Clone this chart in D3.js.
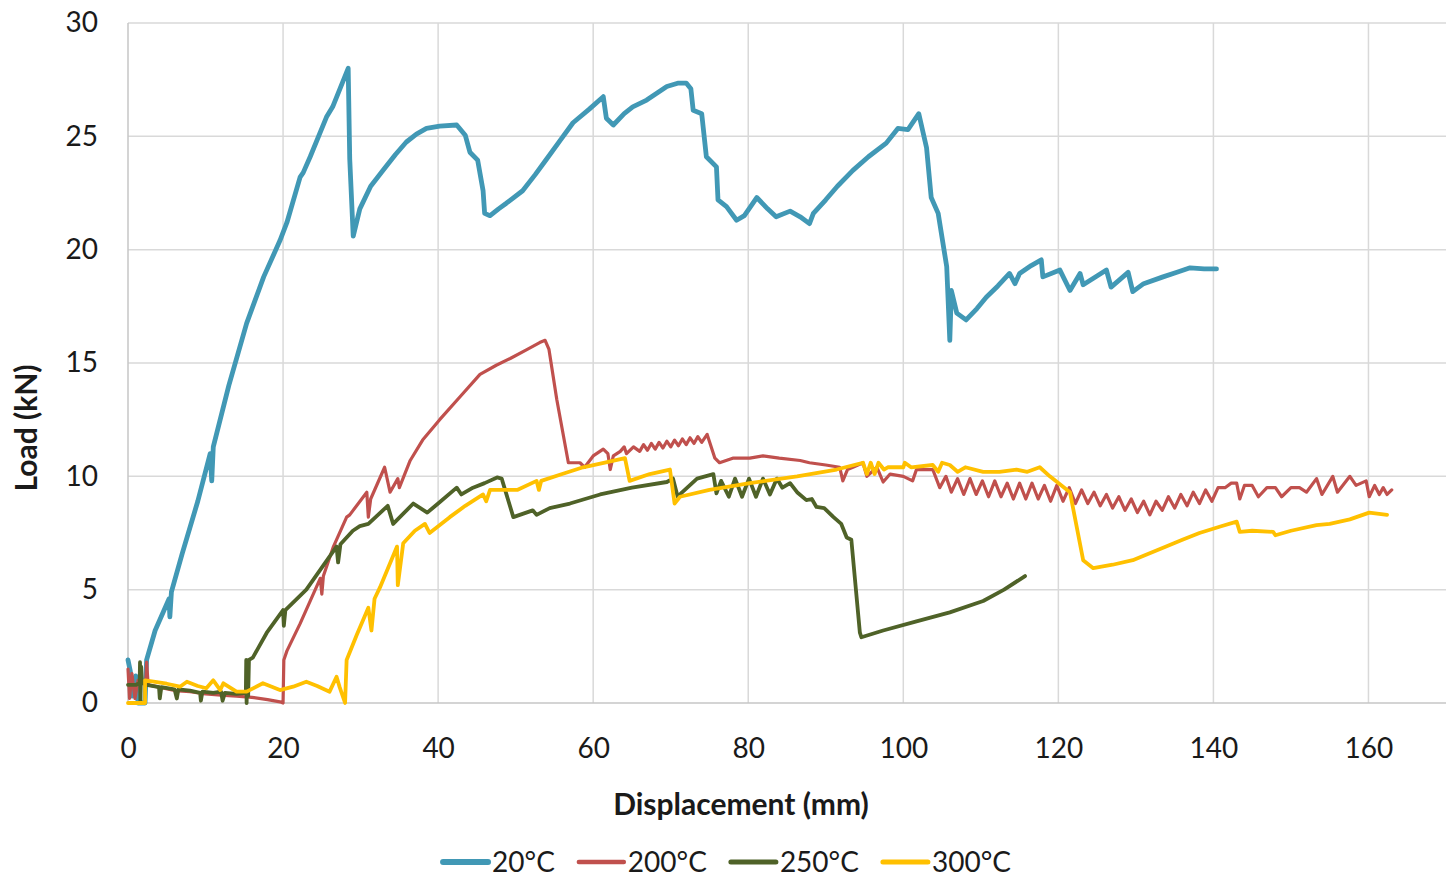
<!DOCTYPE html>
<html>
<head>
<meta charset="utf-8">
<script src="https://cdn.jsdelivr.net/npm/d3@7"></script>
<style>
  body { margin: 0; background: #fff; }
  text { font-family: Lato, "Open Sans", sans-serif; fill: #1a1a1a; }
</style>
</head>
<body>
<div id="chart"></div>
<script>
// ---- data (displacement mm, load kN) ----
const series20 = [[0,1.9],[0.3,1.4],[0.6,0.3],[1,1.2],[1.3,0],[2.2,0],[2.4,1.9],[3.5,3.2],[5.3,4.6],[5.4,3.8],[5.6,4.9],[7,6.6],[9,8.9],[10.6,11],[10.8,9.8],[11,11.3],[13,14],[15.3,16.75],[17.5,18.8],[19.6,20.4],[20.5,21.2],[22.2,23.2],[22.6,23.4],[23.5,24.1],[25.6,25.85],[26.4,26.3],[28.4,28],[28.6,24],[29.05,20.6],[29.9,21.8],[31.3,22.8],[32.9,23.5],[34.5,24.2],[35.9,24.75],[37.2,25.1],[38.5,25.35],[40.2,25.45],[42.4,25.5],[43.5,25.05],[44.1,24.3],[45.1,23.95],[45.8,22.6],[46,21.6],[46.7,21.5],[47.8,21.8],[48.8,22.05],[50.9,22.6],[52.5,23.3],[54,24],[55.7,24.8],[57.4,25.6],[59.5,26.2],[61.3,26.75],[61.7,25.8],[62.6,25.5],[64,26],[65.1,26.3],[66.9,26.6],[68.2,26.9],[69.5,27.2],[71,27.35],[72,27.35],[72.6,27.1],[72.9,26.15],[74,26],[74.6,24.1],[75.9,23.65],[76.1,22.2],[77.2,21.9],[78.5,21.3],[79.5,21.5],[81.1,22.3],[82.5,21.8],[83.6,21.45],[85.4,21.7],[86.7,21.45],[87.9,21.15],[88.4,21.6],[90,22.2],[91.5,22.8],[93.5,23.5],[95.5,24.1],[97.8,24.7],[99.3,25.35],[100.6,25.3],[102,26],[103,24.5],[103.6,22.3],[104.5,21.6],[105.6,19.25],[106,16],[106.2,18.2],[106.9,17.2],[108.1,16.9],[109.5,17.4],[110.7,17.9],[112.2,18.4],[113.7,18.95],[114.4,18.5],[115,18.95],[116.5,19.3],[117.8,19.55],[118,18.8],[120.2,19.1],[121.5,18.2],[122.8,18.95],[123.2,18.45],[126.2,19.1],[126.8,18.35],[129,19],[129.6,18.15],[131,18.5],[133.5,18.8],[135.3,19],[137,19.2],[138.8,19.15],[140.4,19.15]];

const series200 = [[0,1.5],[0.2,0.2],[0.5,1.3],[0.9,0.2],[1.3,1.0],[2.3,0.9],[2.4,1.8],[2.6,0.8],[4,0.7],[6,0.55],[8,0.5],[10,0.4],[12,0.35],[14,0.3],[16,0.25],[18,0.15],[19.6,0.05],[20,0],[20.1,1.9],[20.5,2.3],[22.2,3.5],[24.8,5.5],[25,4.8],[25.2,5.6],[26.5,6.9],[28.2,8.2],[28.6,8.3],[30.8,9.3],[31,8.2],[31.3,9.0],[33.1,10.4],[33.8,9.3],[34.8,9.9],[35,9.5],[36.4,10.7],[38,11.6],[40.2,12.5],[42.8,13.5],[45.4,14.5],[47.5,14.9],[49.3,15.2],[51.5,15.6],[53.1,15.9],[53.8,16],[54.3,15.6],[55.3,13.4],[56.8,10.6],[58.3,10.6],[58.9,10.4],[60,10.9],[61.3,11.2],[61.9,11],[62.2,10.3],[62.6,10.9],[63.5,11.1],[64,11.3],[64.3,11.0],[65.2,11.3],[66,11.1],[66.5,11.4],[67,11.15],[67.5,11.45],[68,11.2],[68.5,11.5],[69,11.25],[69.5,11.55],[70,11.3],[70.5,11.6],[71,11.35],[71.5,11.65],[72,11.4],[72.5,11.7],[73,11.45],[73.5,11.75],[74,11.5],[74.7,11.85],[75.7,10.8],[76.3,10.6],[78,10.8],[80.2,10.8],[81.9,10.9],[84,10.8],[86.7,10.7],[87.9,10.6],[90,10.5],[91.8,10.4],[92.2,9.8],[92.8,10.3],[93.5,10.4],[94.8,10.6],[95.3,10],[96.6,10.4],[97.4,9.75],[98.3,10.1],[100,10.0],[101.2,9.8],[101.7,10.3],[103.8,10.3],[104.7,9.5],[105.5,10.0],[106.2,9.3],[107,9.9],[107.8,9.2],[108.6,9.9],[109.4,9.2],[110.2,9.8],[111,9.1],[111.8,9.8],[112.6,9.1],[113.4,9.7],[114.2,9.0],[115,9.7],[115.8,9.0],[116.6,9.7],[117.4,9.0],[118.2,9.6],[119,8.9],[119.8,9.6],[120.6,8.9],[121.4,9.5],[122.2,8.8],[123,9.4],[123.8,8.8],[124.6,9.3],[125.4,8.7],[126.2,9.2],[127,8.6],[127.8,9.1],[128.6,8.5],[129.4,9.0],[130.2,8.4],[131,8.9],[131.8,8.3],[132.6,8.9],[133.4,8.5],[134.2,9.1],[135,8.6],[135.8,9.2],[136.6,8.7],[137.4,9.3],[138.2,8.8],[139,9.4],[139.8,8.9],[140.6,9.5],[141.5,9.5],[142.3,9.7],[143,9.7],[143.4,9.0],[144,9.6],[145,9.6],[145.8,9.1],[146.9,9.5],[148,9.5],[148.8,9.1],[150,9.5],[151.1,9.5],[152,9.3],[153.3,9.9],[154,9.2],[155.4,10],[156,9.3],[157.6,10],[158.4,9.6],[159.7,9.8],[160.1,9.1],[160.8,9.6],[161.4,9.2],[161.9,9.5],[162.4,9.2],[163,9.4]];

const series250 = [[0,0.8],[1,0.8],[1.5,0.87],[1.55,1.8],[1.6,0],[1.7,1.6],[1.8,0.9],[2.4,0.8],[4,0.7],[4.1,0.2],[4.3,0.7],[6,0.6],[6.3,0.2],[6.5,0.6],[8,0.55],[9.3,0.45],[9.4,0.1],[9.6,0.5],[11,0.45],[12,0.5],[12.2,0.1],[12.5,0.45],[14,0.4],[15.2,0.45],[15.25,1.9],[15.3,0],[15.4,1.7],[15.5,0.3],[15.6,1.9],[16.1,2.0],[17.9,3.1],[20,4.1],[20.1,3.4],[20.3,4.1],[23,5],[26.9,6.9],[27.1,6.2],[27.4,7.0],[29,7.6],[29.9,7.8],[31,7.9],[33.5,8.7],[34.2,7.9],[36.8,8.8],[38.6,8.4],[40,8.8],[42.4,9.5],[43,9.2],[44.5,9.5],[46,9.7],[47.6,9.95],[48.2,9.9],[49.7,8.2],[52.2,8.5],[52.7,8.3],[54.4,8.6],[57,8.8],[60.9,9.2],[65,9.5],[69.5,9.75],[70.3,9.9],[70.9,9.1],[71.5,9.3],[73.4,9.9],[75.5,10.1],[75.9,9.25],[76.5,9.8],[77.5,9.1],[78.3,9.9],[79.2,9.1],[80.1,9.9],[81,9.1],[81.9,9.9],[82.8,9.2],[83.7,9.9],[84.4,9.5],[85.4,9.7],[86.3,9.3],[87.5,8.95],[88.2,9.0],[88.8,8.65],[89.8,8.6],[91,8.2],[92,7.9],[92.7,7.3],[93.3,7.2],[94.4,3.1],[94.6,2.9],[97.4,3.2],[101.7,3.6],[106,4],[110.3,4.5],[113,5],[115.7,5.6]];

const series300 = [[0,0],[1.3,0],[2.2,0],[2.2,1.0],[3.3,0.94],[5,0.85],[6.7,0.72],[7.6,0.94],[9,0.75],[10.1,0.65],[11,1.0],[11.9,0.57],[12.3,0.87],[14,0.5],[15.3,0.5],[17.4,0.87],[19.6,0.57],[21.3,0.72],[23,0.94],[24.4,0.75],[26,0.5],[26.9,1.16],[27.3,0.7],[28,0],[28.2,1.9],[29.5,3],[31,4.2],[31.4,3.2],[31.8,4.6],[32.5,5.1],[34.7,6.9],[34.8,5.2],[35.5,7.05],[37,7.6],[38.3,7.9],[38.9,7.5],[41.5,8.2],[43.5,8.7],[45.8,9.2],[46.2,8.9],[46.7,9.4],[50.2,9.4],[52.7,9.8],[53,9.4],[53.3,9.8],[56,10.1],[58.7,10.4],[61.5,10.6],[64.1,10.8],[64.7,9.8],[67.3,10.1],[69.9,10.3],[70.5,8.8],[71.2,9.1],[75,9.4],[80.2,9.7],[86.3,10],[91.4,10.3],[94.8,10.6],[95.3,10.1],[95.8,10.6],[96.3,10.1],[96.8,10.6],[97.5,10.3],[98,10.4],[100,10.4],[100.2,10.6],[101,10.4],[103.8,10.5],[104.5,10.2],[105,10.6],[106,10.5],[107,10.2],[108,10.4],[110.3,10.2],[112.4,10.2],[114.6,10.3],[116,10.2],[117.6,10.4],[118.9,10],[121.5,9.3],[123.2,6.3],[124.5,5.95],[127,6.1],[129.6,6.3],[131,6.5],[133.9,6.9],[136,7.2],[138.2,7.5],[141,7.8],[143,8],[143.4,7.55],[145,7.6],[147.7,7.55],[148,7.4],[150,7.6],[153.3,7.85],[155,7.9],[157.6,8.1],[160.1,8.4],[162.4,8.3]];

const seriesNames = ["20°C", "200°C", "250°C", "300°C"];
const seriesData = [series20, series200, series250, series300];
const seriesColors = ["#4198b5", "#c0504d", "#4f6228", "#ffc000"];
const seriesWidths = [4.8, 3.2, 3.8, 3.8];

const xTicks = [0, 20, 40, 60, 80, 100, 120, 140, 160];
const yTicks = [0, 5, 10, 15, 20, 25, 30];

// ---- layout ----
const W = 1449, H = 879;
const plot = { left: 128, right: 1446, top: 23, bottom: 703 };

const svg = d3.select("#chart").append("svg")
  .attr("width", W).attr("height", H)
  .style("background", "#fff");

const x = d3.scaleLinear().domain([0, 170]).range([plot.left, plot.right]);
const y = d3.scaleLinear().domain([0, 30]).range([plot.bottom, plot.top]);

// gridlines
svg.append("g").selectAll("line.h")
  .data(yTicks.filter(d => d > 0)).join("line")
  .attr("x1", plot.left).attr("x2", plot.right)
  .attr("y1", d => y(d)).attr("y2", d => y(d))
  .attr("stroke", "#d9d9d9").attr("stroke-width", 1.5);

svg.append("g").selectAll("line.v")
  .data(xTicks.filter(d => d > 0)).join("line")
  .attr("x1", d => x(d)).attr("x2", d => x(d))
  .attr("y1", plot.top).attr("y2", plot.bottom)
  .attr("stroke", "#d9d9d9").attr("stroke-width", 1.5);

// axis lines
svg.append("line")
  .attr("x1", plot.left).attr("x2", plot.left)
  .attr("y1", plot.top).attr("y2", plot.bottom)
  .attr("stroke", "#c6c6c6").attr("stroke-width", 1.5);
svg.append("line")
  .attr("x1", plot.left).attr("x2", plot.right)
  .attr("y1", plot.bottom).attr("y2", plot.bottom)
  .attr("stroke", "#c6c6c6").attr("stroke-width", 1.5);

// tick labels through d3 axes
const xAxis = svg.append("g")
  .attr("transform", `translate(0,${plot.bottom})`)
  .call(d3.axisBottom(x).tickValues(xTicks).tickSize(0).tickPadding(35));
const yAxis = svg.append("g")
  .attr("transform", `translate(${plot.left},0)`)
  .call(d3.axisLeft(y).tickValues(yTicks).tickSize(0).tickPadding(30));

[xAxis, yAxis].forEach(a => {
  a.select(".domain").remove();
  a.selectAll("text")
    .style("font-family", "Lato, 'Open Sans', sans-serif")
    .style("font-size", "28px")
    .style("fill", "#1a1a1a");
});

// axis titles
svg.append("text")
  .attr("x", 741).attr("y", 815)
  .attr("text-anchor", "middle")
  .style("font-size", "30px").style("font-weight", "bold")
  .text("Displacement (mm)");

svg.append("text")
  .attr("transform", "translate(37,428) rotate(-90)")
  .attr("text-anchor", "middle")
  .style("font-size", "30px").style("font-weight", "bold")
  .text("Load (kN)");

// lines
const line = d3.line().x(d => x(d[0])).y(d => y(d[1]));

svg.append("g").selectAll("path")
  .data(seriesData).join("path")
  .attr("d", line)
  .attr("fill", "none")
  .attr("stroke", (d, i) => seriesColors[i])
  .attr("stroke-width", (d, i) => seriesWidths[i])
  .attr("stroke-linejoin", "round")
  .attr("stroke-linecap", "round");

// legend
const legend = svg.append("g");
let lx = 0;
seriesNames.forEach((name, i) => {
  const g = legend.append("g").attr("transform", `translate(${lx},0)`);
  g.append("line")
    .attr("x1", 0).attr("x2", 45).attr("y1", 0).attr("y2", 0)
    .attr("stroke", seriesColors[i])
    .attr("stroke-width", seriesWidths[i] + 1.2)
    .attr("stroke-linecap", "round");
  const t = g.append("text")
    .attr("x", 49).attr("y", 10)
    .style("font-size", "28px")
    .text(name);
  lx += 49 + t.node().getComputedTextLength() + 24;
});
const legendWidth = lx - 24;
legend.attr("transform", `translate(${727 - legendWidth / 2},862)`);
</script>
</body>
</html>
